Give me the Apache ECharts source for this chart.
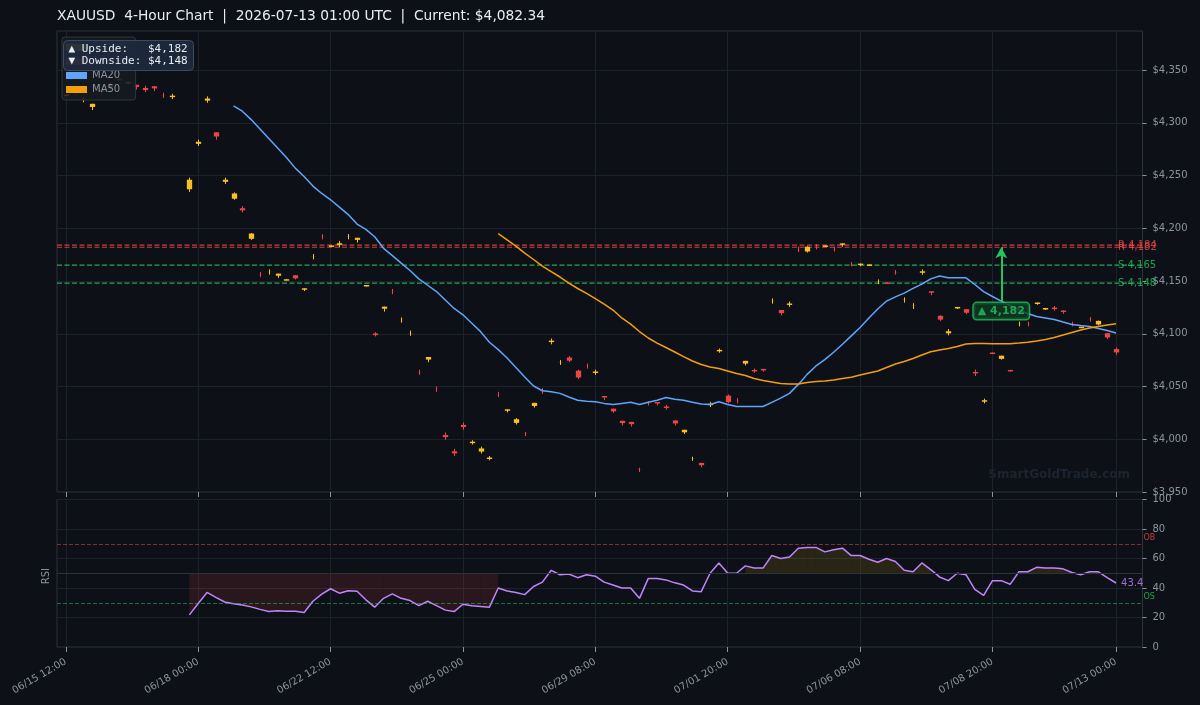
<!DOCTYPE html>
<html>
<head>
<meta charset="utf-8">
<script src="https://cdn.jsdelivr.net/npm/echarts/dist/echarts.min.js"></script>
<style>
html, body { margin: 0; padding: 0; background: #0d1117; }
#chart { width: 1200px; height: 705px; }
</style>
</head>
<body>
<div id="chart"></div>
<script>
// x axis: 120 four-hour bars, labelled every 15 bars plus the last one
var tickBars = [0, 15, 30, 45, 60, 75, 90, 105, 119];
var tickLabels = ['06/15 12:00', '06/18 00:00', '06/22 12:00', '06/25 00:00', '06/29 08:00',
                  '07/01 20:00', '07/06 08:00', '07/08 20:00', '07/13 00:00'];
var priceTicks = [3950, 4000, 4050, 4100, 4150, 4200, 4250, 4300, 4350];

var candleOpen = [4325.3,4331,4322,4315,4331,4334,4341.7,4337.3,4336,4333,
  4334.6,4326.1,4324.3,4360,4237,4280,4321,4291,4244,4228,
  4219,4190,4156.1,4158.5,4155,4150.3,4155.5,4141.7,4173,4192.1,
  4182.3,4184.2,4192,4189,4144.8,4100.3,4123.7,4140.1,4113,4100.4,
  4063.6,4075.5,4047.7,4004,3988.6,4013.6,3996.3,3988.3,3981.3,4042.7,
  4027,4015.5,4005.1,4031.5,4045.8,4092.1,4072.8,4077.5,4065,4069.5,
  4062.8,4041,4029,4017.5,4016.5,3971,4034.1,4035.3,4031,4017.8,
  4006.6,3981.3,3977.6,4032.3,4083.3,4041.3,4036.7,4071.7,4065.7,4066.7,
  4131,4122.5,4127.3,4180.1,4178,4182.6,4182.3,4180.4,4184.3,4166.1,
  4165.1,4164.3,4149.3,4148.7,4158.3,4132,4126.3,4157.8,4140.3,4117,
  4100.4,4124,4123.3,4063.8,4035.6,4082.2,4076.2,4065.7,4109.2,4109.3,
  4128.2,4123,4124.8,4122,4109.3,4105.3,4113.8,4108.8,4100.5,4085.5];
var candleClose = [4326.7,4329,4322.1,4318,4329,4336,4340.3,4338.7,4334,4331,
  4332.6,4326,4325.7,4362,4246,4282,4323,4287,4246,4233,
  4217,4195,4156,4158.6,4157,4151.7,4152.5,4143.1,4173.1,4192,
  4183.7,4185.8,4192.1,4191,4146.2,4098.7,4125.7,4140,4113.1,4100.5,
  4063.5,4078,4047.6,4002,3986.6,4011.6,3997.7,3991.3,3982.7,4042.6,
  4028.4,4019,4005,4034.5,4045.7,4093.5,4072.9,4074.5,4058.5,4069.4,
  4064.2,4039.6,4026.4,4015.3,4014.3,3970.9,4034,4033.9,4029.6,4015,
  4009,3981.4,3975.4,4033.7,4084.7,4035.2,4036.6,4074.3,4064.3,4065.3,
  4131.1,4119.5,4128.7,4180,4182.5,4182.5,4183.7,4180.3,4185.7,4166,
  4166.5,4165.7,4149.4,4147.3,4158.2,4132.1,4126.4,4159.2,4138.9,4113.4,
  4102.4,4125.4,4119.9,4062.4,4037,4080.8,4079.2,4064.3,4109.3,4109.2,
  4129.6,4124.4,4123.4,4120.6,4109.2,4106.7,4113.7,4112.2,4096.5,4082.34];
var candleLow = [4325.3,4327,4319.5,4312,4326.5,4332,4340.3,4337.3,4331.5,4329,
  4330,4323.5,4322.5,4358,4234.5,4278,4319,4284,4242,4227,
  4215,4189,4153.5,4156,4153,4150.3,4151.5,4140.5,4170.5,4189.5,
  4182.3,4182,4189.5,4186.5,4144.8,4097.5,4121,4137.5,4110.5,4098,
  4061,4073,4045,3999.5,3984,4009,3995,3986.5,3980,4040,
  4025.5,4014,4003,4030,4043,4090,4070.5,4073,4057,4067,
  4061,4037,4025,4013,4012,3969,4032,4032,4028,4013,
  4005,3979.5,3973.5,4030.5,4082,4034,4034,4070,4063,4064,
  4128.5,4117.5,4125.5,4177.5,4177,4180,4182.3,4178,4182.5,4164,
  4164,4164.3,4147,4147.3,4156,4129.5,4123.5,4156,4136.5,4112,
  4098.5,4123.5,4118.5,4060,4034,4080.8,4075.5,4064.3,4107,4107,
  4127.5,4122.5,4122,4119,4107,4105.3,4111.5,4108,4095,4080];
var candleHigh = [4326.7,4333,4324.5,4318,4331,4338,4341.7,4338.7,4336,4335,
  4334.6,4328.5,4327.5,4364,4248,4284,4325,4291,4248,4234,
  4221,4195.5,4158.5,4161,4157,4151.7,4155.5,4143.1,4175.5,4194.5,
  4183.7,4188,4194.5,4191,4146.2,4101.5,4125.7,4142.5,4115.5,4103,
  4066,4078,4050,4006.5,3991,4016,3999,3993,3984,4045,
  4028.4,4020,4007,4034.5,4048.5,4095.5,4075,4079,4066,4071.8,
  4066,4041,4029,4017.5,4016.5,3973,4036,4035.3,4032.5,4017.8,
  4009,3983.5,3977.6,4035.5,4086,4042.5,4039,4074.3,4067,4066.7,
  4133.5,4122.5,4130.5,4182.5,4183,4185,4183.7,4182.5,4185.7,4168,
  4166.5,4165.7,4151.5,4148.7,4160.5,4134.5,4129,4161,4140.3,4117.5,
  4104.5,4125.4,4123.5,4066,4038.5,4082.2,4079.2,4065.7,4111.5,4111.5,
  4129.6,4124.4,4126.3,4122,4111.5,4106.7,4116,4112.5,4100.5,4087];

// MA20 starts at bar 19, MA50 at bar 49
var ma20Start = 19;
var ma20 = [4316,4311,4303,4294,4285,4276,4267,4257,4249,4240,
  4233,4227,4220,4213,4204,4199,4192,4181,4174,4167,
  4160,4152,4146,4140,4132,4124,4118,4110,4102,4092,
  4085,4077,4068,4059,4050.5,4046,4045,4043.5,4040,4037,
  4036,4035.5,4034,4033,4034,4035,4033,4035,4037,4039.5,
  4038,4037,4035,4033.5,4033,4035.5,4033,4031,4031,4031,
  4031,4035,4039,4043.5,4052,4061.5,4069.5,4075.5,4082.5,4090,
  4098,4106,4115,4123.5,4131,4135,4138.5,4143,4147,4152,
  4154.7,4153,4153,4153,4146.7,4140,4135.3,4131,4126.8,4122.5,
  4119.2,4116.4,4115,4113.5,4111.1,4108.8,4107.8,4106.9,4105,4103,4100.7];
var ma50Start = 49;
var ma50 = [4195,4189,4183,4176.5,4170.4,4164.2,4159,4153.8,4148.1,4142.9,
  4138.2,4133.4,4128.2,4122.5,4115,4109.2,4102.1,4096,4091.2,4087,
  4082.7,4078.4,4074.2,4070.8,4068.5,4067,4064.7,4062.3,4060.4,4057.6,
  4055.7,4054.3,4052.8,4052.4,4052.4,4053.8,4054.7,4055.2,4056.2,4057.6,
  4058.7,4060.9,4062.8,4064.7,4068,4071.3,4073.7,4076.5,4079.9,4083,
  4084.6,4086,4087.9,4090.3,4090.8,4090.8,4090.6,4090.6,4090.6,4091.2,
  4091.9,4093.1,4094.5,4096.4,4098.8,4101.2,4103.6,4105.5,4106.9,4108.3,4109.5];

// RSI starts at bar 14
var rsiStart = 14;
var rsi = [21.8,29.5,37,33.7,30.5,29.3,28.4,27.2,25.5,24,
  24.5,24.2,24.3,23.4,31,35.8,39.5,36.5,38.2,37.8,
  32,27,33,36,33,31.5,28,31,28,25,
  24,29,28,27.5,27,40,38,37,35.5,41,
  44,52,49,49.5,47,49,48,44,42,40,
  40,33,46.5,46.5,45.5,43.5,42,38,37.5,50,
  57,50,50,55,53.5,53.5,62,60,61,67,
  67.5,67.5,64.5,66,67,62,62,59.5,57.5,60,
  58,52,51,57,52.5,47.5,45,50,49,39,
  35,45,45,42.5,51,51,54,53.5,53.5,53,
  50.5,49,51,51,47,43.4];

var levelPrices = [4184, 4182, 4165, 4148];
var levelNames = ['R 4,184', 'R 4,182', 'S 4,165', 'S 4,148'];
var targetBar = 106, targetFrom = 4131, targetPrice = 4182, targetLabelPrice = 4121.5;

var BULL = '#fbbf24', BEAR = '#ef4444', MA20C = '#60a5fa', MA50C = '#f59e0b', RSIC = '#c084fc';
var GREEN = '#22c55e', GRID = '#1c222b', BORDER = '#2d333b', TXT = '#8b949e';

// one padding category on the left, three on the right
var xCats = [];
for (var k = 0; k < 124; k++) xCats.push(String(k - 1));
function cat(bar) { return bar + 1; }
var tickMap = {};
tickBars.forEach(function (b, j) { tickMap[cat(b)] = tickLabels[j]; });
function isTick(idx) { return tickMap.hasOwnProperty(idx); }

var bullData = [], bearData = [];
for (var i = 0; i < candleOpen.length; i++) {
  var item = [cat(i), candleOpen[i], candleClose[i], candleLow[i], candleHigh[i]];
  (candleClose[i] >= candleOpen[i] ? bullData : bearData).push(item);
}

function renderCandle(params, api) {
  var x = api.value(0);
  var o = api.coord([x, api.value(1)]);
  var c = api.coord([x, api.value(2)]);
  var lo = api.coord([x, api.value(3)]);
  var hi = api.coord([x, api.value(4)]);
  var w = api.size([1, 0])[0] * 0.6;
  var cx = Math.round(o[0]) + 0.5;
  var color = api.visual('color');
  return {
    type: 'group',
    children: [
      { type: 'line', shape: { x1: cx, y1: hi[1], x2: cx, y2: lo[1] }, style: { stroke: color, lineWidth: 1 } },
      { type: 'rect', shape: { x: cx - w / 2, y: Math.min(o[1], c[1]), width: w, height: Math.abs(o[1] - c[1]) },
        style: { fill: color } }
    ]
  };
}

var rsiFill = [];
for (var k2 = 0; k2 < rsi.length - 1; k2++) {
  var b = rsiStart + k2, r0 = rsi[k2], r1 = rsi[k2 + 1];
  if (b < 49 && r0 < 50 && r1 < 50) rsiFill.push([cat(b), r0, r1, 0]);
  else if (b >= 76 && r0 > 50 && r1 > 50) rsiFill.push([cat(b), r0, r1, 1]);
}
function renderFill(params, api) {
  var x = api.value(0);
  var p0 = api.coord([x, 50]), a = api.coord([x, api.value(1)]);
  var bb = api.coord([x + 1, api.value(2)]), p1 = api.coord([x + 1, 50]);
  return {
    type: 'polygon',
    shape: { points: [p0, a, bb, p1] },
    style: { fill: api.value(3) === 0 ? 'rgba(239,68,68,0.13)' : 'rgba(234,179,8,0.13)' }
  };
}

// support / resistance levels as dashed lines across the whole panel
var levelSeries = levelPrices.map(function (p, k) {
  var col = k < 2 ? BEAR : GREEN;
  return {
    name: levelNames[k], type: 'line', xAxisIndex: 0, yAxisIndex: 0, showSymbol: false, silent: true, z: 2,
    lineStyle: { color: col, type: [5, 2.5], width: 1.2, opacity: 0.85 },
    data: [[0, p], [xCats.length - 1, p]]
  };
});

var chart = echarts.init(document.getElementById('chart'));

var tickStyle = { show: true, length: 5, lineStyle: { color: TXT } };
var option = {
  backgroundColor: '#0d1117',
  animation: false,
  textStyle: { fontFamily: 'DejaVu Sans' },
  title: {
    text: 'XAUUSD  4-Hour Chart  |  2026-07-13 01:00 UTC  |  Current: $4,082.34',
    left: 57, top: 9, padding: 0,
    textStyle: { color: '#e6edf3', fontSize: 13.8, fontWeight: 'normal', fontFamily: 'DejaVu Sans' }
  },
  legend: {
    orient: 'vertical', left: 62, top: 37, z: 20,
    padding: [4, 6, 4, 4], itemGap: 1, itemWidth: 21, itemHeight: 7,
    backgroundColor: 'rgba(22,27,34,0.85)', borderColor: '#30363d', borderWidth: 1, borderRadius: 3,
    textStyle: { color: TXT, fontSize: 10, lineHeight: 13 },
    data: [
      { name: 'Bullish', icon: 'rect' }, { name: 'Bearish', icon: 'rect' },
      { name: 'MA20', icon: 'rect' }, { name: 'MA50', icon: 'rect' }
    ]
  },
  grid: [
    { left: 57, right: 57.5, top: 31, height: 461, show: true, backgroundColor: '#0d1117', borderColor: BORDER, borderWidth: 1 },
    { left: 57, right: 57.5, top: 499.5, height: 147.5, show: true, backgroundColor: '#0d1117', borderColor: BORDER, borderWidth: 1 }
  ],
  xAxis: [
    { type: 'category', gridIndex: 0, data: xCats, boundaryGap: false,
      axisLine: { show: false }, axisTick: Object.assign({ interval: isTick }, tickStyle),
      axisLabel: { show: false },
      splitLine: { show: true, interval: isTick, lineStyle: { color: GRID } } },
    { type: 'category', gridIndex: 1, data: xCats, boundaryGap: false,
      axisLine: { show: false }, axisTick: Object.assign({ interval: isTick }, tickStyle),
      axisLabel: { show: true, interval: isTick, rotate: 30, color: TXT, fontSize: 10, margin: 14,
        formatter: function (v, idx) { return tickMap[idx] || ''; } },
      splitLine: { show: true, interval: isTick, lineStyle: { color: GRID } } }
  ],
  yAxis: [
    { type: 'value', gridIndex: 0, position: 'right', min: 3950, max: 4387, interval: 50,
      axisLine: { show: false },
      axisTick: { show: true, length: 4, lineStyle: { color: TXT }, customValues: priceTicks },
      axisLabel: { color: TXT, fontSize: 10, margin: 10, customValues: priceTicks,
        formatter: function (v) { return '$' + v.toLocaleString('en-US'); } },
      splitLine: { lineStyle: { color: GRID } } },
    { type: 'value', gridIndex: 1, position: 'right', min: 0, max: 100, interval: 20,
      axisLine: { show: false }, axisTick: { show: true, length: 4, lineStyle: { color: TXT } },
      axisLabel: { color: TXT, fontSize: 10, margin: 10 },
      splitLine: { lineStyle: { color: GRID } } }
  ],
  series: levelSeries.concat([
    { name: 'Bullish', type: 'custom', xAxisIndex: 0, yAxisIndex: 0, renderItem: renderCandle,
      itemStyle: { color: BULL }, encode: { x: 0, y: [1, 2, 3, 4] }, data: bullData, z: 3 },
    { name: 'Bearish', type: 'custom', xAxisIndex: 0, yAxisIndex: 0, renderItem: renderCandle,
      itemStyle: { color: BEAR }, encode: { x: 0, y: [1, 2, 3, 4] }, data: bearData, z: 3 },
    { name: 'MA20', type: 'line', xAxisIndex: 0, yAxisIndex: 0, showSymbol: false, z: 4,
      itemStyle: { color: MA20C }, lineStyle: { color: MA20C, width: 1.5 },
      data: ma20.map(function (v, k) { return [cat(ma20Start + k), v]; }) },
    { name: 'MA50', type: 'line', xAxisIndex: 0, yAxisIndex: 0, showSymbol: false, z: 4,
      itemStyle: { color: MA50C }, lineStyle: { color: MA50C, width: 1.5 },
      data: ma50.map(function (v, k) { return [cat(ma50Start + k), v]; }),
      markLine: {
        silent: true, symbol: ['none', 'arrow'], symbolSize: [9, 11], label: { show: false },
        data: [[{ coord: [cat(targetBar), targetFrom], lineStyle: { color: GREEN, width: 2, type: 'solid' } },
                { coord: [cat(targetBar), targetPrice] }]]
      } },
    { name: 'levels', type: 'scatter', xAxisIndex: 0, yAxisIndex: 0, symbolSize: 0, silent: true, z: 6,
      label: { show: true, position: 'right', distance: 2, formatter: '{b}', fontSize: 10 },
      data: levelPrices.map(function (p, k) {
        return { name: levelNames[k], value: [cat(119), p], label: { color: k < 2 ? BEAR : GREEN } };
      }) },
    { name: 'target', type: 'scatter', xAxisIndex: 0, yAxisIndex: 0, symbolSize: 0, silent: true, z: 7,
      label: { show: true, position: 'inside', formatter: '▲ 4,182', color: GREEN, fontSize: 11, fontWeight: 'bold',
        backgroundColor: '#103a22', borderColor: GREEN, borderWidth: 1.5, borderRadius: 3, padding: [3, 4, 2, 4] },
      data: [[cat(targetBar), targetLabelPrice]] },
    { name: 'rsiFill', type: 'custom', xAxisIndex: 1, yAxisIndex: 1, renderItem: renderFill,
      encode: { x: 0, y: [1, 2] }, data: rsiFill, silent: true, z: 1 },
    { name: 'RSI', type: 'line', xAxisIndex: 1, yAxisIndex: 1, showSymbol: false, z: 4,
      lineStyle: { color: RSIC, width: 1.5 }, itemStyle: { color: RSIC },
      data: rsi.map(function (v, k) { return [cat(rsiStart + k), v]; }),
      markLine: {
        silent: true, symbol: 'none', label: { show: false },
        data: [
          { yAxis: 70, lineStyle: { color: 'rgba(239,68,68,0.55)', type: [4, 2], width: 1 } },
          { yAxis: 30, lineStyle: { color: 'rgba(34,197,94,0.55)', type: [4, 2], width: 1 } },
          { yAxis: 50, lineStyle: { color: '#2d333b', type: 'solid', width: 1 } }
        ]
      } },
    { name: 'rsiLabels', type: 'scatter', xAxisIndex: 1, yAxisIndex: 1, symbolSize: 0, silent: true, z: 6,
      label: { show: true, position: 'right', fontSize: 10, formatter: '{b}' },
      data: [
        { name: '43.4', value: [cat(119), rsi[rsi.length - 1]], label: { color: RSIC, distance: 5 } },
        { name: 'OB', value: [cat(122), 70], label: { color: BEAR, fontSize: 8, distance: 1, offset: [0, -6] } },
        { name: 'OS', value: [cat(122), 30], label: { color: GREEN, fontSize: 8, distance: 1, offset: [0, -6] } }
      ] }
  ]),
  graphic: [
    { type: 'text', left: 41, top: 568, rotation: Math.PI / 2,
      style: { text: 'RSI', fill: TXT, font: '10px "DejaVu Sans"' } },
    { type: 'text', right: 70, top: 469,
      style: { text: 'SmartGoldTrade.com', fill: '#1b2430', font: 'bold 12px "DejaVu Sans"' } },
    { type: 'group', left: 63, top: 40, zlevel: 5, z: 100, children: [
      { type: 'rect', zlevel: 5, z: 100, shape: { x: 0, y: 0, width: 130, height: 30, r: 4 },
        style: { fill: 'rgba(30,41,59,0.94)', stroke: '#3b4a5e', lineWidth: 1 } },
      { type: 'text', zlevel: 5, z: 101, x: 5, y: 3,
        style: { text: '▲ Upside:   $4,182\n▼ Downside: $4,148', fill: '#e6edf3',
          font: '11px "DejaVu Sans Mono"', lineHeight: 12 } }
    ] }
  ]
};
chart.setOption(option);
</script>
</body>
</html>
